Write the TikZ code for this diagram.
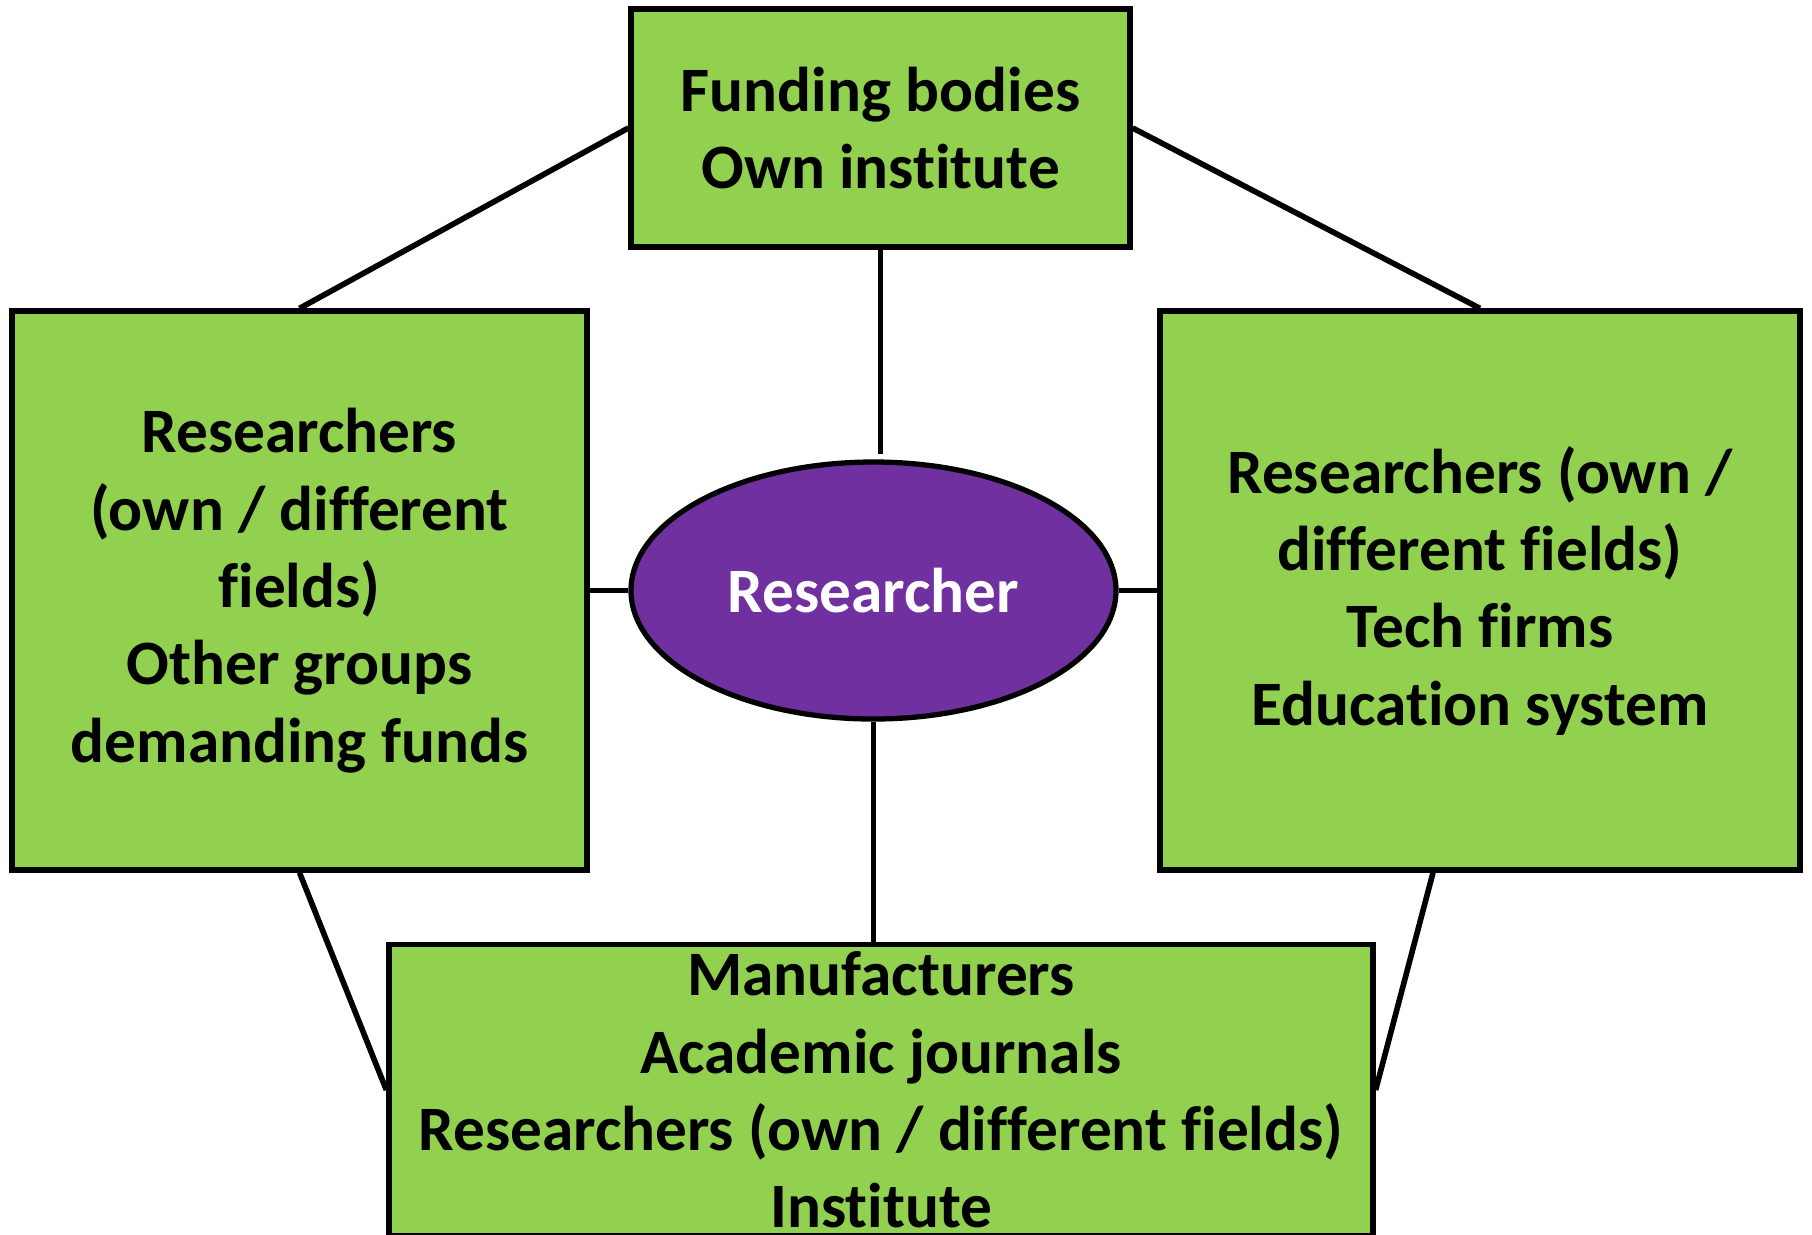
\documentclass[tikz,border=0pt]{standalone}
\usepackage{fontspec}
\setmainfont[Ligatures=NoCommon]{Carlito}
\usepackage{tikz}
\usetikzlibrary{shapes.geometric}

\definecolor{boxgreen}{HTML}{92D050}
\definecolor{hubpurple}{HTML}{7030A0}

\begin{document}
\begin{tikzpicture}[
        box/.style={rectangle,draw=black,line width=1.5pt,fill=boxgreen,align=center,inner sep=2pt,
            font=\fontsize{18}{22}\selectfont\bfseries},
        hub/.style={ellipse,draw=black,line width=1.5pt,fill=hubpurple,text=white,inner sep=0pt,
            font=\fontsize{18}{22}\selectfont\bfseries},
        link/.style={line width=1.6pt}]
            \useasboundingbox (0,0) rectangle (18.12,-12.34);

            % Place the center node
            \node[hub,minimum width=4.85cm,minimum height=2.57cm] (res) at (8.735,-5.905) {Researcher};

            % Place the other nodes
            \node[box,minimum width=4.99cm,minimum height=2.38cm] (fund) at (8.805,-1.28)
                {Funding bodies\\Own institute};
            \node[box,minimum width=5.75cm,minimum height=5.59cm] (left) at (2.995,-5.905)
                {Researchers\\(own / different\\fields)\\Other groups\\demanding funds};
            \node[box,minimum width=6.40cm,minimum height=5.59cm] (right) at (14.80,-5.905)
                {Researchers (own /\\different fields)\\Tech firms\\Education system};
            \node[box,minimum width=9.84cm,minimum height=2.84cm] (bot) at (8.81,-10.90)
                {Manufacturers\\Academic journals\\Researchers (own / different fields)\\Institute};
            \coordinate (gap) at (8.805,-4.54);

            % The lines!
            \draw[link] (fund.west) -- (left.north);
            \draw[link] (fund.east) -- (right.north);
            \draw[link] (fund.south) -- (gap);
            \draw[link] (left.east) -- (res.west);
            \draw[link] (res.east) -- (right.west);
            \draw[link] (res.south) -- (res.south |- bot.north);
            \draw[link] (left.south) -- (bot.west);
            \draw[link] ([xshift=-0.47cm]right.south) -- (bot.east);
        \end{tikzpicture}
\end{document}
